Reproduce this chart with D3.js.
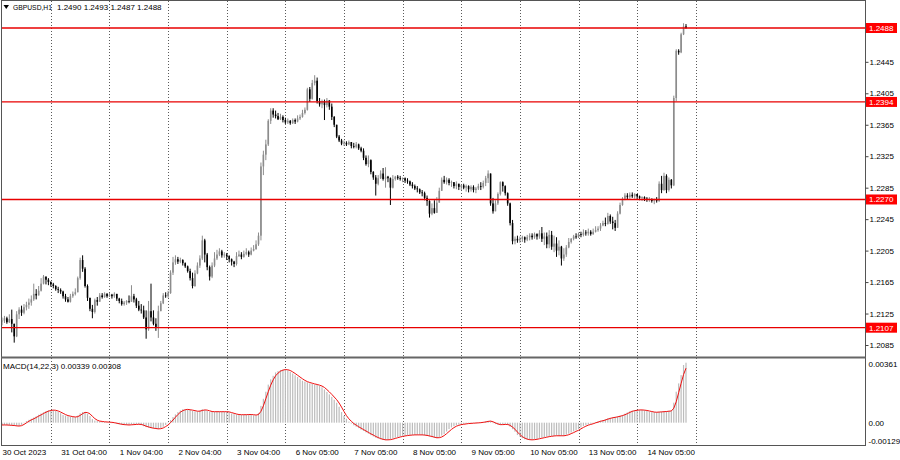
<!DOCTYPE html>
<html><head><meta charset="utf-8">
<script src="https://cdn.jsdelivr.net/npm/d3@7"></script>
<style>
html,body{margin:0;padding:0;background:#fff;}
svg{display:block;font-family:"Liberation Sans",Arial,sans-serif;}
</style></head><body>
<svg id="chart" width="900" height="460"></svg>
<script>
// ---------------- data ----------------
const symbolTitle = "GBPUSD,H1";
const lastOHLC = "1.2490 1.2493 1.2487 1.2488";
const macdTitle = "MACD(14,22,3) 0.00339 0.00308";
const timeLabels = ["30 Oct 2023","31 Oct 04:00","1 Nov 04:00","2 Nov 04:00","3 Nov 04:00","6 Nov 05:00","7 Nov 05:00","8 Nov 05:00","9 Nov 05:00","10 Nov 05:00","13 Nov 05:00","14 Nov 05:00"];
const timeLabelBars = [0,24,48,72,96,120,144,168,192,216,240,264];
const gridBars = [20,44,68,92,116,140,164,188,212,236,260,284];
const priceTicks = [1.2445,1.2405,1.2365,1.2325,1.2285,1.2245,1.2205,1.2165,1.2125,1.2085];
const levels = [1.2488,1.2394,1.2270,1.2107];
const macdTicks = [0.00361,0,-0.00129];
const macdTickLabels = ["0.00361","0.00","-0.00129"];

const opens = [
1.2115,1.2116,1.2119,1.2114,1.2118,1.2112,1.2096,1.2124,1.2130,1.2126,
1.2133,1.2136,1.2139,1.2143,1.2150,1.2148,1.2154,1.2163,1.2172,1.2168,
1.2165,1.2162,1.2160,1.2156,1.2155,1.2153,1.2147,1.2143,1.2140,1.2147,
1.2150,1.2152,1.2170,1.2193,1.2182,1.2160,1.2145,1.2131,1.2127,1.2142,
1.2140,1.2148,1.2146,1.2150,1.2147,1.2149,1.2147,1.2150,1.2144,1.2141,
1.2137,1.2139,1.2141,1.2140,1.2147,1.2143,1.2135,1.2130,1.2129,1.2120,
1.2105,1.2128,1.2120,1.2112,1.2108,1.2128,1.2138,1.2148,1.2147,1.2151,
1.2177,1.2190,1.2194,1.2191,1.2193,1.2189,1.2185,1.2179,1.2170,1.2160,
1.2176,1.2186,1.2195,1.2218,1.2200,1.2184,1.2172,1.2186,1.2195,1.2200,
1.2204,1.2199,1.2200,1.2198,1.2194,1.2191,1.2188,1.2198,1.2200,1.2197,
1.2201,1.2203,1.2200,1.2205,1.2207,1.2213,1.2224,1.2312,1.2327,1.2340,
1.2370,1.2383,1.2378,1.2376,1.2372,1.2375,1.2371,1.2368,1.2370,1.2367,
1.2371,1.2369,1.2373,1.2375,1.2380,1.2384,1.2410,1.2398,1.2418,1.2421,
1.2395,1.2391,1.2395,1.2390,1.2396,1.2388,1.2375,1.2365,1.2350,1.2345,
1.2341,1.2342,1.2340,1.2343,1.2338,1.2337,1.2340,1.2335,1.2332,1.2323,
1.2315,1.2320,1.2305,1.2298,1.2290,1.2297,1.2303,1.2296,1.2299,1.2297,
1.2285,1.2296,1.2299,1.2297,1.2296,1.2297,1.2294,1.2293,1.2289,1.2287,
1.2284,1.2283,1.2279,1.2278,1.2272,1.2268,1.2252,1.2259,1.2253,1.2266,
1.2281,1.2295,1.2292,1.2295,1.2291,1.2292,1.2287,1.2290,1.2286,1.2288,
1.2285,1.2287,1.2283,1.2286,1.2282,1.2284,1.2287,1.2286,1.2291,1.2297,
1.2303,1.2265,1.2255,1.2265,1.2277,1.2292,1.2287,1.2278,1.2265,1.2240,
1.2217,1.2220,1.2218,1.2220,1.2222,1.2219,1.2222,1.2224,1.2222,1.2226,
1.2223,1.2227,1.2220,1.2223,1.2213,1.2225,1.2210,1.2214,1.2205,1.2210,
1.2195,1.2200,1.2209,1.2216,1.2220,1.2223,1.2222,1.2226,1.2225,1.2228,
1.2227,1.2229,1.2226,1.2229,1.2231,1.2233,1.2237,1.2240,1.2239,1.2249,
1.2242,1.2240,1.2234,1.2252,1.2263,1.2271,1.2275,1.2273,1.2276,1.2274,
1.2277,1.2274,1.2272,1.2273,1.2271,1.2270,1.2271,1.2268,1.2269,1.2268,
1.2290,1.2282,1.2300,1.2282,1.2295,1.2288,1.2399,1.2459,1.2457,1.2480,
1.2490];
const highs = [
1.2120,1.2122,1.2121,1.2124,1.2130,1.2112,1.2128,1.2133,1.2135,1.2137,
1.2140,1.2144,1.2148,1.2163,1.2156,1.2160,1.2170,1.2174,1.2172,1.2170,
1.2166,1.2164,1.2161,1.2159,1.2157,1.2154,1.2150,1.2146,1.2150,1.2153,
1.2157,1.2172,1.2196,1.2199,1.2184,1.2162,1.2145,1.2136,1.2144,1.2146,
1.2151,1.2151,1.2152,1.2151,1.2151,1.2150,1.2152,1.2150,1.2145,1.2144,
1.2141,1.2142,1.2148,1.2161,1.2150,1.2145,1.2141,1.2137,1.2135,1.2129,
1.2141,1.2163,1.2129,1.2119,1.2135,1.2141,1.2151,1.2152,1.2154,1.2180,
1.2197,1.2199,1.2197,1.2196,1.2194,1.2190,1.2186,1.2182,1.2177,1.2180,
1.2190,1.2199,1.2224,1.2220,1.2202,1.2186,1.2190,1.2203,1.2206,1.2208,
1.2206,1.2203,1.2202,1.2199,1.2195,1.2192,1.2203,1.2205,1.2203,1.2205,
1.2208,1.2205,1.2209,1.2212,1.2218,1.2228,1.2317,1.2332,1.2346,1.2372,
1.2386,1.2386,1.2383,1.2380,1.2379,1.2377,1.2374,1.2373,1.2371,1.2373,
1.2373,1.2377,1.2378,1.2384,1.2387,1.2412,1.2413,1.2422,1.2428,1.2425,
1.2399,1.2397,1.2397,1.2399,1.2396,1.2392,1.2376,1.2365,1.2352,1.2347,
1.2345,1.2344,1.2345,1.2343,1.2342,1.2343,1.2341,1.2337,1.2335,1.2326,
1.2326,1.2321,1.2306,1.2301,1.2301,1.2307,1.2310,1.2311,1.2300,1.2298,
1.2301,1.2300,1.2301,1.2300,1.2298,1.2298,1.2297,1.2294,1.2292,1.2289,
1.2287,1.2284,1.2282,1.2280,1.2275,1.2269,1.2265,1.2269,1.2273,1.2285,
1.2298,1.2300,1.2298,1.2297,1.2294,1.2292,1.2293,1.2290,1.2289,1.2290,
1.2289,1.2288,1.2288,1.2288,1.2286,1.2290,1.2292,1.2294,1.2300,1.2307,
1.2303,1.2272,1.2269,1.2279,1.2293,1.2293,1.2288,1.2279,1.2266,1.2244,
1.2223,1.2224,1.2223,1.2224,1.2223,1.2225,1.2227,1.2227,1.2228,1.2227,
1.2231,1.2235,1.2228,1.2228,1.2231,1.2230,1.2224,1.2222,1.2218,1.2211,
1.2208,1.2212,1.2221,1.2221,1.2225,1.2227,1.2228,1.2229,1.2232,1.2231,
1.2233,1.2231,1.2233,1.2236,1.2236,1.2240,1.2243,1.2247,1.2253,1.2251,
1.2248,1.2244,1.2255,1.2266,1.2273,1.2278,1.2278,1.2279,1.2279,1.2278,
1.2277,1.2275,1.2274,1.2274,1.2273,1.2273,1.2271,1.2271,1.2273,1.2293,
1.2300,1.2304,1.2302,1.2298,1.2296,1.2402,1.2461,1.2461,1.2482,1.2494,
1.2493];
const lows = [
1.2110,1.2113,1.2112,1.2113,1.2101,1.2088,1.2095,1.2118,1.2122,1.2124,
1.2129,1.2131,1.2135,1.2141,1.2143,1.2148,1.2153,1.2162,1.2162,1.2161,
1.2159,1.2157,1.2154,1.2151,1.2150,1.2144,1.2140,1.2139,1.2139,1.2145,
1.2148,1.2152,1.2168,1.2178,1.2158,1.2141,1.2128,1.2119,1.2125,1.2135,
1.2140,1.2144,1.2145,1.2145,1.2146,1.2144,1.2145,1.2141,1.2138,1.2135,
1.2135,1.2136,1.2138,1.2140,1.2139,1.2132,1.2128,1.2125,1.2118,1.2093,
1.2103,1.2115,1.2110,1.2103,1.2094,1.2128,1.2137,1.2145,1.2145,1.2150,
1.2174,1.2187,1.2188,1.2189,1.2186,1.2183,1.2177,1.2167,1.2157,1.2159,
1.2175,1.2183,1.2193,1.2190,1.2180,1.2167,1.2170,1.2184,1.2193,1.2198,
1.2196,1.2196,1.2193,1.2190,1.2186,1.2184,1.2186,1.2197,1.2194,1.2196,
1.2199,1.2197,1.2199,1.2204,1.2206,1.2211,1.2218,1.2301,1.2320,1.2338,
1.2366,1.2374,1.2373,1.2371,1.2371,1.2368,1.2366,1.2366,1.2365,1.2366,
1.2366,1.2368,1.2371,1.2374,1.2378,1.2383,1.2394,1.2397,1.2415,1.2392,
1.2388,1.2386,1.2371,1.2387,1.2384,1.2371,1.2362,1.2348,1.2343,1.2339,
1.2338,1.2338,1.2339,1.2335,1.2335,1.2335,1.2333,1.2330,1.2320,1.2313,
1.2311,1.2302,1.2295,1.2275,1.2288,1.2296,1.2294,1.2285,1.2292,1.2263,
1.2284,1.2294,1.2295,1.2294,1.2292,1.2291,1.2290,1.2287,1.2284,1.2282,
1.2279,1.2277,1.2274,1.2269,1.2262,1.2247,1.2250,1.2252,1.2253,1.2266,
1.2281,1.2290,1.2289,1.2288,1.2286,1.2284,1.2283,1.2282,1.2282,1.2283,
1.2280,1.2279,1.2280,1.2279,1.2278,1.2282,1.2282,1.2284,1.2287,1.2291,
1.2262,1.2252,1.2255,1.2263,1.2275,1.2280,1.2275,1.2262,1.2237,1.2213,
1.2213,1.2215,1.2215,1.2216,1.2215,1.2217,1.2218,1.2219,1.2220,1.2219,
1.2220,1.2216,1.2212,1.2208,1.2208,1.2206,1.2203,1.2197,1.2199,1.2186,
1.2192,1.2197,1.2208,1.2214,1.2218,1.2220,1.2221,1.2222,1.2223,1.2224,
1.2224,1.2224,1.2225,1.2228,1.2229,1.2230,1.2236,1.2236,1.2238,1.2239,
1.2232,1.2230,1.2234,1.2251,1.2262,1.2269,1.2270,1.2271,1.2272,1.2271,
1.2270,1.2269,1.2268,1.2268,1.2267,1.2267,1.2266,1.2264,1.2266,1.2267,
1.2278,1.2281,1.2278,1.2280,1.2284,1.2287,1.2395,1.2454,1.2456,1.2479,
1.2487];
const closes = [
1.2116,1.2119,1.2114,1.2118,1.2112,1.2096,1.2124,1.2130,1.2126,1.2133,
1.2136,1.2139,1.2143,1.2150,1.2148,1.2154,1.2163,1.2172,1.2168,1.2165,
1.2162,1.2160,1.2156,1.2155,1.2153,1.2147,1.2143,1.2140,1.2147,1.2150,
1.2152,1.2170,1.2193,1.2182,1.2160,1.2145,1.2131,1.2127,1.2142,1.2140,
1.2148,1.2146,1.2150,1.2147,1.2149,1.2147,1.2150,1.2144,1.2141,1.2137,
1.2139,1.2141,1.2140,1.2147,1.2143,1.2135,1.2130,1.2129,1.2120,1.2105,
1.2128,1.2120,1.2112,1.2108,1.2128,1.2138,1.2148,1.2147,1.2151,1.2177,
1.2190,1.2194,1.2191,1.2193,1.2189,1.2185,1.2179,1.2170,1.2160,1.2176,
1.2186,1.2195,1.2218,1.2200,1.2184,1.2172,1.2186,1.2195,1.2200,1.2204,
1.2199,1.2200,1.2198,1.2194,1.2191,1.2188,1.2198,1.2200,1.2197,1.2201,
1.2203,1.2200,1.2205,1.2207,1.2213,1.2224,1.2312,1.2327,1.2340,1.2370,
1.2383,1.2378,1.2376,1.2372,1.2375,1.2371,1.2368,1.2370,1.2367,1.2371,
1.2369,1.2373,1.2375,1.2380,1.2384,1.2410,1.2398,1.2418,1.2421,1.2395,
1.2391,1.2395,1.2390,1.2396,1.2388,1.2375,1.2365,1.2350,1.2345,1.2341,
1.2342,1.2340,1.2343,1.2338,1.2337,1.2340,1.2335,1.2332,1.2323,1.2315,
1.2320,1.2305,1.2298,1.2290,1.2297,1.2303,1.2296,1.2299,1.2297,1.2285,
1.2296,1.2299,1.2297,1.2296,1.2297,1.2294,1.2293,1.2289,1.2287,1.2284,
1.2283,1.2279,1.2278,1.2272,1.2268,1.2252,1.2259,1.2253,1.2266,1.2281,
1.2295,1.2292,1.2295,1.2291,1.2292,1.2287,1.2290,1.2286,1.2288,1.2285,
1.2287,1.2283,1.2286,1.2282,1.2284,1.2287,1.2286,1.2291,1.2297,1.2303,
1.2265,1.2255,1.2265,1.2277,1.2292,1.2287,1.2278,1.2265,1.2240,1.2217,
1.2220,1.2218,1.2220,1.2222,1.2219,1.2222,1.2224,1.2222,1.2226,1.2223,
1.2227,1.2220,1.2223,1.2213,1.2225,1.2210,1.2214,1.2205,1.2210,1.2195,
1.2200,1.2209,1.2216,1.2220,1.2223,1.2222,1.2226,1.2225,1.2228,1.2227,
1.2229,1.2226,1.2229,1.2231,1.2233,1.2237,1.2240,1.2239,1.2249,1.2242,
1.2240,1.2234,1.2252,1.2263,1.2271,1.2275,1.2273,1.2276,1.2274,1.2277,
1.2274,1.2272,1.2273,1.2271,1.2270,1.2271,1.2268,1.2269,1.2268,1.2290,
1.2282,1.2300,1.2282,1.2295,1.2288,1.2399,1.2459,1.2457,1.2480,1.2490,
1.2488];
const macd = [
-0.00013,-0.00013,-0.00014,-0.00015,-0.00016,-0.00018,-0.00019,-0.00019,-0.00012,0,
0.00009,0.00016,0.00022,0.00029,0.00036,0.00045,0.00052,0.00059,0.00066,0.00070,
0.00072,0.00071,0.00066,0.00061,0.00054,0.00044,0.00040,0.00036,0.00034,0.00032,
0.00031,0.00040,0.00053,0.00060,0.00060,0.00051,0.00038,0.00020,0.00012,0.00009,
0.00007,0.00005,0.00004,0.00003,0.00002,0,-0.00003,-0.00006,-0.00009,-0.00011,
-0.00013,-0.00013,-0.00012,-0.00011,-0.00010,-0.00008,-0.00008,-0.00014,-0.00020,-0.00025,
-0.00028,-0.00031,-0.00033,-0.00035,-0.00036,-0.00030,-0.00023,-0.00013,-0.00003,0.00015,
0.00032,0.00047,0.00060,0.00069,0.00076,0.00075,0.00073,0.00072,0.00067,0.00064,
0.00063,0.00069,0.00076,0.00072,0.00066,0.00062,0.00062,0.00062,0.00062,0.00063,
0.00062,0.00062,0.00062,0.00058,0.00052,0.00048,0.00046,0.00045,0.00044,0.00045,
0.00046,0.00047,0.00046,0.00042,0.00041,0.00055,0.00095,0.00135,0.00175,0.00215,
0.00245,0.00265,0.00284,0.00292,0.00298,0.00300,0.00302,0.00296,0.00288,0.00278,
0.00268,0.00258,0.00248,0.00237,0.00232,0.00228,0.00222,0.00219,0.00215,0.00213,
0.00208,0.00200,0.00188,0.00174,0.00160,0.00146,0.00130,0.00113,0.00090,0.00060,
0.00038,0.00022,0.00006,-0.00005,-0.00015,-0.00023,-0.00031,-0.00040,-0.00047,-0.00055,
-0.00062,-0.00071,-0.00078,-0.00085,-0.00090,-0.00094,-0.00098,-0.00098,-0.00096,-0.00094,
-0.00089,-0.00085,-0.00081,-0.00078,-0.00075,-0.00073,-0.00071,-0.00069,-0.00069,-0.00069,
-0.00069,-0.00069,-0.00070,-0.00072,-0.00075,-0.00078,-0.00082,-0.00086,-0.00088,-0.00082,
-0.00073,-0.00064,-0.00050,-0.00036,-0.00027,-0.00020,-0.00014,-0.00011,-0.00008,-0.00007,
-0.00005,-0.00004,-0.00003,-0.00002,-0.00001,0,0.00001,0.00004,0.00008,0.00010,
0.00008,-0.00002,-0.00008,-0.00011,-0.00013,-0.00009,-0.00007,-0.00014,-0.00023,-0.00037,
-0.00051,-0.00070,-0.00079,-0.00088,-0.00094,-0.00096,-0.00098,-0.00096,-0.00094,-0.00092,
-0.00088,-0.00085,-0.00082,-0.00079,-0.00076,-0.00075,-0.00074,-0.00073,-0.00074,-0.00075,
-0.00074,-0.00068,-0.00062,-0.00056,-0.00049,-0.00043,-0.00036,-0.00027,-0.00019,-0.00014,
-0.00010,-0.00006,-0.00002,0.00004,0.00008,0.00011,0.00015,0.00020,0.00025,0.00028,
0.00030,0.00033,0.00035,0.00040,0.00044,0.00051,0.00058,0.00065,0.00068,0.00071,
0.00072,0.00072,0.00072,0.00070,0.00066,0.00062,0.00060,0.00059,0.00059,0.00061,
0.00062,0.00063,0.00065,0.00066,0.00067,0.00113,0.00175,0.00222,0.00269,0.00326,
0.00339];
const signal = [
-0.00013,-0.00013,-0.00013,-0.00014,-0.00015,-0.00016,-0.00018,-0.00019,-0.00017,-0.00010,
-0.00001,0.00008,0.00016,0.00022,0.00029,0.00037,0.00044,0.00052,0.00059,0.00065,
0.00069,0.00071,0.00070,0.00066,0.00060,0.00053,0.00046,0.00040,0.00037,0.00034,
0.00032,0.00034,0.00041,0.00051,0.00058,0.00057,0.00050,0.00036,0.00023,0.00014,
0.00009,0.00007,0.00005,0.00004,0.00003,0.00002,0,-0.00003,-0.00006,-0.00009,
-0.00011,-0.00012,-0.00013,-0.00012,-0.00011,-0.00010,-0.00009,-0.00010,-0.00014,-0.00020,
-0.00024,-0.00028,-0.00031,-0.00033,-0.00035,-0.00034,-0.00030,-0.00022,-0.00013,0,
0.00015,0.00031,0.00046,0.00059,0.00068,0.00073,0.00075,0.00073,0.00071,0.00068,
0.00065,0.00065,0.00069,0.00072,0.00071,0.00067,0.00063,0.00062,0.00062,0.00062,
0.00062,0.00062,0.00062,0.00061,0.00057,0.00053,0.00049,0.00046,0.00045,0.00045,
0.00045,0.00046,0.00046,0.00045,0.00043,0.00046,0.00064,0.00095,0.00135,0.00175,
0.00212,0.00242,0.00265,0.00280,0.00291,0.00297,0.00300,0.00299,0.00295,0.00287,
0.00278,0.00268,0.00258,0.00248,0.00239,0.00232,0.00227,0.00223,0.00219,0.00216,
0.00212,0.00207,0.00199,0.00187,0.00174,0.00160,0.00145,0.00130,0.00111,0.00088,
0.00063,0.00040,0.00022,0.00008,-0.00005,-0.00014,-0.00023,-0.00031,-0.00039,-0.00047,
-0.00055,-0.00063,-0.00070,-0.00078,-0.00084,-0.00090,-0.00094,-0.00097,-0.00097,-0.00096,
-0.00093,-0.00089,-0.00085,-0.00081,-0.00078,-0.00075,-0.00073,-0.00071,-0.00070,-0.00069,
-0.00069,-0.00069,-0.00069,-0.00070,-0.00072,-0.00075,-0.00078,-0.00082,-0.00085,-0.00085,
-0.00081,-0.00073,-0.00062,-0.00050,-0.00038,-0.00028,-0.00020,-0.00015,-0.00011,-0.00009,
-0.00007,-0.00005,-0.00004,-0.00003,-0.00002,-0.00001,0,0.00002,0.00004,0.00007,
0.00009,0.00005,-0.00001,-0.00007,-0.00011,-0.00011,-0.00010,-0.00010,-0.00015,-0.00025,
-0.00037,-0.00053,-0.00067,-0.00079,-0.00087,-0.00093,-0.00096,-0.00097,-0.00096,-0.00094,
-0.00091,-0.00088,-0.00085,-0.00082,-0.00079,-0.00077,-0.00075,-0.00074,-0.00074,-0.00074,
-0.00074,-0.00072,-0.00068,-0.00062,-0.00056,-0.00049,-0.00043,-0.00035,-0.00027,-0.00020,
-0.00014,-0.00010,-0.00006,-0.00001,0.00003,0.00008,0.00011,0.00015,0.00020,0.00024,
0.00028,0.00030,0.00033,0.00036,0.00040,0.00045,0.00051,0.00058,0.00064,0.00068,
0.00070,0.00072,0.00072,0.00071,0.00069,0.00066,0.00063,0.00060,0.00059,0.00060,
0.00061,0.00062,0.00063,0.00065,0.00066,0.00082,0.00118,0.00170,0.00222,0.00272,
0.00308];

// ---------------- drawing ----------------
const svg = d3.select("#chart");
const FONT = '"Liberation Sans", Arial, sans-serif';
const axisX = 865.5, sepY = 357.5, macdBottom = 445.5;
const nBars = closes.length;
const x = d3.scaleLinear().domain([0, 280]).range([2, 686]);
const yP = d3.scaleLinear().domain([1.2085, 1.2488]).range([345, 28]);
const yM = d3.scaleLinear().domain([-0.00129, 0.00361]).range([445.5, 358.8]);

svg.append("rect").attr("width", 900).attr("height", 460).attr("fill", "#fff");

// vertical dotted grid
svg.append("g").selectAll("line").data(gridBars).join("line")
  .attr("x1", d => Math.round(x(d)) + 0.5).attr("x2", d => Math.round(x(d)) + 0.5)
  .attr("y1", 1).attr("y2", macdBottom)
  .attr("stroke", "#5a5a5a").attr("stroke-width", 1).attr("stroke-dasharray", "1,2");

// candles
const idx = d3.range(nBars);
const upCol = "#8c8c8c", dnCol = "#000";
const cg = svg.append("g");
cg.selectAll("line").data(idx).join("line")
  .attr("x1", i => x(i)).attr("x2", i => x(i))
  .attr("y1", i => yP(highs[i])).attr("y2", i => yP(lows[i]))
  .attr("stroke", i => closes[i] >= opens[i] ? upCol : dnCol).attr("stroke-width", 1);
cg.selectAll("rect").data(idx).join("rect")
  .attr("x", i => x(i) - 0.8).attr("width", 1.6)
  .attr("y", i => yP(Math.max(opens[i], closes[i])))
  .attr("height", i => Math.max(0.8, Math.abs(yP(opens[i]) - yP(closes[i]))))
  .attr("fill", i => closes[i] >= opens[i] ? upCol : dnCol);

// MACD histogram
const mg = svg.append("g");
mg.selectAll("rect").data(idx).join("rect")
  .attr("x", i => x(i) - 0.6).attr("width", 1.2)
  .attr("y", i => Math.min(yM(0), yM(macd[i])))
  .attr("height", i => Math.max(0.5, Math.abs(yM(macd[i]) - yM(0))))
  .attr("fill", "#bcbcbc");
// signal line
svg.append("path").datum(signal)
  .attr("d", d3.line().x((d, i) => x(i)).y(d => yM(d)))
  .attr("fill", "none").attr("stroke", "#f01010").attr("stroke-width", 1);

// horizontal levels
const lg = svg.append("g");
lg.selectAll("line").data(levels).join("line")
  .attr("x1", 1).attr("x2", axisX).attr("y1", d => yP(d)).attr("y2", d => yP(d))
  .attr("stroke", "#e80000").attr("stroke-width", 1.3);

// frame
const fr = svg.append("g").attr("stroke", "#555").attr("fill", "none");
fr.append("line").attr("x1", 1.5).attr("x2", 1.5).attr("y1", 0).attr("y2", macdBottom);
fr.append("line").attr("x1", 1).attr("x2", axisX).attr("y1", 0.5).attr("y2", 0.5);
fr.append("line").attr("x1", axisX).attr("x2", axisX).attr("y1", 0).attr("y2", macdBottom + 0.5);
fr.append("line").attr("x1", 1).attr("x2", axisX).attr("y1", sepY).attr("y2", sepY).attr("stroke-width", 2).attr("stroke", "#666");
fr.append("line").attr("x1", 1).attr("x2", axisX).attr("y1", macdBottom).attr("y2", macdBottom);

// price axis
const pAxis = svg.append("g").attr("transform", `translate(${axisX},0)`)
  .call(d3.axisRight(yP).tickValues(priceTicks).tickFormat(d3.format(".4f")).tickSize(3).tickPadding(1));
pAxis.select(".domain").remove();
pAxis.selectAll("line").attr("stroke", "#444");
pAxis.selectAll("text").attr("font-family", FONT).attr("font-size", 8).attr("fill", "#000");

// level labels
const ll = svg.append("g");
ll.selectAll("rect").data(levels).join("rect")
  .attr("x", 866).attr("y", d => yP(d) - 5).attr("width", 31).attr("height", 10).attr("fill", "#ff0000");
ll.selectAll("text").data(levels).join("text")
  .attr("x", 869).attr("y", d => yP(d) + 3)
  .attr("font-family", FONT).attr("font-size", 8).attr("fill", "#fff")
  .text(d => d.toFixed(4));

// MACD axis
const mAxis = svg.append("g").attr("transform", `translate(${axisX},0)`)
  .call(d3.axisRight(yM).tickValues(macdTicks).tickFormat((d, i) => macdTickLabels[i]).tickSize(0).tickPadding(3));
mAxis.select(".domain").remove();
mAxis.selectAll("text").attr("font-family", FONT).attr("font-size", 8).attr("fill", "#000")
  .attr("dy", (d, i) => i === 0 ? "0.95em" : (i === 2 ? "-0.3em" : "0.32em"));

// time axis
const tAxis = svg.append("g").attr("transform", `translate(0,${macdBottom})`)
  .call(d3.axisBottom(x).tickValues(timeLabelBars).tickFormat((d, i) => timeLabels[i]).tickSize(0).tickPadding(4));
tAxis.select(".domain").remove();
tAxis.selectAll("text").attr("font-family", FONT).attr("font-size", 8).attr("fill", "#000")
  .attr("text-anchor", "start");

// titles
svg.append("path").attr("d", "M3.5,5 L9,5 L6.25,9 Z").attr("fill", "#000");
svg.append("text").attr("x", 13).attr("y", 10).attr("font-family", FONT).attr("font-size", 8)
  .attr("fill", "#000").attr("textLength", 39).attr("lengthAdjust", "spacingAndGlyphs").text(symbolTitle);
svg.append("text").attr("x", 57).attr("y", 10).attr("font-family", FONT).attr("font-size", 8)
  .attr("fill", "#000").text(lastOHLC);
svg.append("text").attr("x", 3).attr("y", 368.5).attr("font-family", FONT).attr("font-size", 8)
  .attr("fill", "#000").text(macdTitle);
</script>
</body></html>
